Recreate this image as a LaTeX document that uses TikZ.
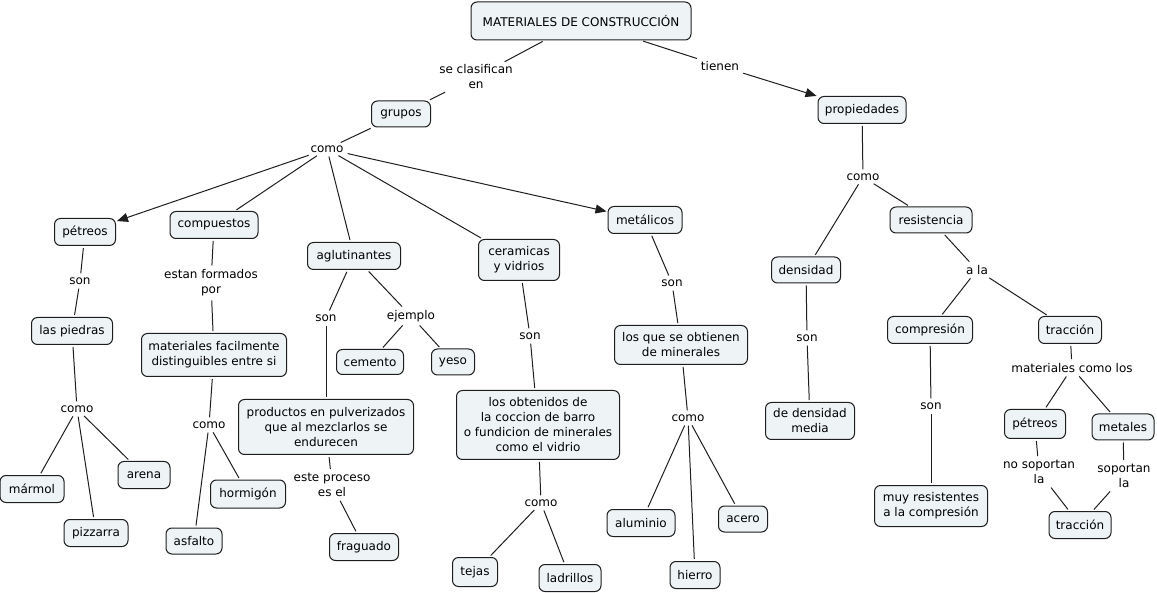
\documentclass[tikz,border=0pt]{standalone}
\usepackage{fontspec}
\setmainfont{DejaVu Sans}
\usetikzlibrary{arrows.meta}
\definecolor{cfill}{RGB}{238,243,246}
\definecolor{cline}{RGB}{30,30,30}
\tikzset{
  concept/.style={draw=cline, line width=1pt, fill=cfill, rounded corners=6pt, inner sep=0pt, align=center, font=\fontsize{12}{15}\selectfont},
  lbl/.style={inner sep=2pt, align=center, font=\fontsize{12}{15}\selectfont},
  link/.style={draw=cline, line width=1pt, shorten <=2pt, shorten >=2pt},
  arr/.style={link, -{Triangle[length=11pt,width=9pt]}, shorten >=1pt},
}
\newcommand{\cn}[6]{\node[concept, minimum width=#4pt, minimum height=#5pt] (#1) at (#2,#3) {#6};}
\begin{document}
\begin{tikzpicture}[x=1pt,y=-1pt]
\useasboundingbox (0,0) rectangle (1157,593);
% concepts
\cn{top}{581}{21}{220}{38}{MATERIALES DE CONSTRUCCIÓN}
\cn{grupos}{401}{114}{59}{26}{grupos}
\cn{prop}{862}{110}{88}{27}{propiedades}
\cn{pet}{85}{232}{61}{27}{pétreos}
\cn{comp}{214}{225}{88}{27}{compuestos}
\cn{aglu}{354}{256}{93}{27}{aglutinantes}
\cn{cera}{519}{260}{81}{41}{ceramicas\\y vidrios}
\cn{meta}{645}{220}{74}{27}{metálicos}
\cn{dens}{806}{270}{69}{26}{densidad}
\cn{resi}{931}{220}{82}{26}{resistencia}
\cn{compr}{930}{330}{85}{27}{compresión}
\cn{trac}{1070}{330}{63}{27}{tracción}
\cn{piedras}{72}{331}{81}{27}{las piedras}
\cn{matf}{214}{355}{145}{43}{materiales facilmente\\distinguibles entre si}
\cn{cem}{370}{362}{67}{25}{cemento}
\cn{yeso}{453}{362}{43}{26}{yeso}
\cn{prod}{326}{427}{175}{55}{productos en pulverizados\\que al mezclarlos se\\endurecen}
\cn{obt}{538}{425}{163}{69}{los obtenidos de\\la coccion de barro\\o fundicion de minerales\\como el vidrio}
\cn{minr}{681}{345}{133}{39}{los que se obtienen\\de minerales}
\cn{dmed}{810}{421}{89}{37}{de densidad\\media}
\cn{muy}{931}{506}{113}{41}{muy resistentes\\a la compresión}
\cn{pet2}{1035}{424}{61}{29}{pétreos}
\cn{metl}{1123}{427}{62}{26}{metales}
\cn{trac2}{1080}{525}{62}{27}{tracción}
\cn{marm}{32}{489}{64}{27}{mármol}
\cn{aren}{144}{475}{52}{27}{arena}
\cn{pizz}{96}{533}{64}{27}{pizzarra}
\cn{horm}{248}{494}{75}{28}{hormigón}
\cn{asfa}{194}{541}{56}{26}{asfalto}
\cn{frag}{364}{547}{69}{27}{fraguado}
\cn{teja}{475}{572}{45}{29}{tejas}
\cn{ladr}{570}{578}{62}{27}{ladrillos}
\cn{alum}{641}{523}{68}{27}{aluminio}
\cn{acer}{743}{519}{49}{26}{acero}
\cn{hier}{695}{575}{50}{27}{hierro}
% labels
\node[lbl] (lsecl) at (476,77) {se clasifican\\en};
\node[lbl] (ltien) at (720,66) {tienen};
\node[lbl] (lcomo1) at (327,149) {como};
\node[lbl] (lcomo2) at (863,177) {como};
\node[lbl] (lson1) at (80,281) {son};
\node[lbl] (lest) at (211,283) {estan formados\\por};
\node[lbl] (lson2) at (326,318) {son};
\node[lbl] (lejem) at (411,316) {ejemplo};
\node[lbl] (lson3) at (530,336) {son};
\node[lbl] (lson4) at (672,283) {son};
\node[lbl] (lson5) at (807,338) {son};
\node[lbl] (lala) at (977,270) {a la};
\node[lbl] (lcomo3) at (77,409) {como};
\node[lbl] (lcomo4) at (209,425) {como};
\node[lbl] (lproc) at (332,485) {este proceso\\es el};
\node[lbl] (lcomo5) at (541,503) {como};
\node[lbl] (lcomo6) at (688,418) {como};
\node[lbl] (lson6) at (931,406) {son};
\node[lbl] (lmcl) at (1072,368) {materiales como los};
\node[lbl] (lnos) at (1039,472) {no soportan\\la};
\node[lbl] (lsop) at (1124,476) {soportan\\la};
% connectors
\draw[link] (top) -- (lsecl);
\draw[link] (lsecl) -- (grupos);
\draw[link] (top) -- (ltien);
\draw[arr] (ltien) -- (prop);
\draw[link] (grupos) -- (lcomo1);
\draw[arr] (lcomo1) -- (pet);
\draw[link] (lcomo1) -- (comp);
\draw[link] (lcomo1) -- (aglu);
\draw[link] (lcomo1) -- (cera);
\draw[arr] (lcomo1) -- (meta);
\draw[link] (prop) -- (lcomo2);
\draw[link] (lcomo2) -- (dens);
\draw[link] (lcomo2) -- (resi);
\draw[link] (pet) -- (lson1);
\draw[link] (lson1) -- (piedras);
\draw[link] (piedras) -- (lcomo3);
\draw[link] (lcomo3) -- (marm);
\draw[link] (lcomo3) -- (aren);
\draw[link] (lcomo3) -- (pizz);
\draw[link] (comp) -- (lest);
\draw[link] (lest) -- (matf);
\draw[link] (matf) -- (lcomo4);
\draw[link] (lcomo4) -- (horm);
\draw[link] (lcomo4) -- (asfa);
\draw[link] (aglu) -- (lson2);
\draw[link] (lson2) -- (prod);
\draw[link] (prod) -- (lproc);
\draw[link] (lproc) -- (frag);
\draw[link] (aglu) -- (lejem);
\draw[link] (lejem) -- (cem);
\draw[link] (lejem) -- (yeso);
\draw[link] (cera) -- (lson3);
\draw[link] (lson3) -- (obt);
\draw[link] (obt) -- (lcomo5);
\draw[link] (lcomo5) -- (teja);
\draw[link] (lcomo5) -- (ladr);
\draw[link] (meta) -- (lson4);
\draw[link] (lson4) -- (minr);
\draw[link] (minr) -- (lcomo6);
\draw[link] (lcomo6) -- (alum);
\draw[link] (lcomo6) -- (acer);
\draw[link] (lcomo6) -- (hier);
\draw[link] (dens) -- (lson5);
\draw[link] (lson5) -- (dmed);
\draw[link] (resi) -- (lala);
\draw[link] (lala) -- (compr);
\draw[link] (lala) -- (trac);
\draw[link] (compr) -- (lson6);
\draw[link] (lson6) -- (muy);
\draw[link] (trac) -- (lmcl);
\draw[link] (lmcl) -- (pet2);
\draw[link] (lmcl) -- (metl);
\draw[link] (pet2) -- (lnos);
\draw[link] (lnos) -- (trac2);
\draw[link] (metl) -- (lsop);
\draw[link] (lsop) -- (trac2);
\end{tikzpicture}
\end{document}
